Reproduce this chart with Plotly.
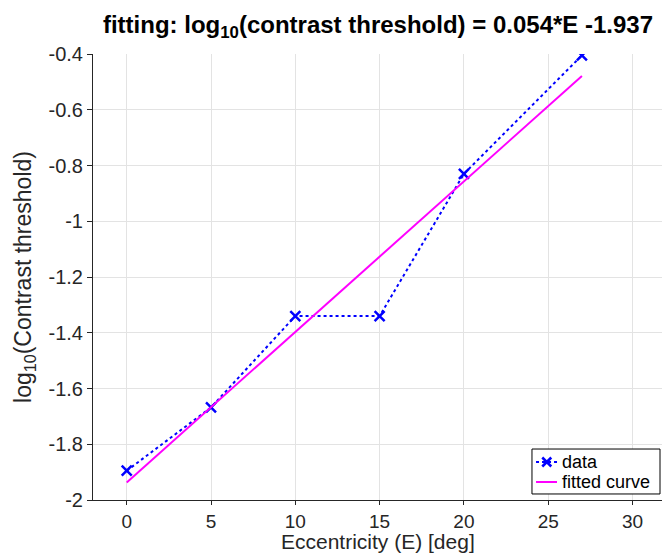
import plotly.graph_objects as go

# Measured eccentricities and log10 contrast thresholds
ecc_deg = [0, 5, 10, 15, 20, 27]
log_threshold = [-1.895, -1.668, -1.34, -1.34, -0.83, -0.405]

# Linear fit coefficients: log10(threshold) = slope * E + intercept
fit_slope = 0.054
fit_intercept = -1.937
fit_x = [0, 27]
fit_y = [fit_slope * e + fit_intercept for e in fit_x]

x_ticks = [0, 5, 10, 15, 20, 25, 30]
y_ticks = [-2, -1.8, -1.6, -1.4, -1.2, -1, -0.8, -0.6, -0.4]
y_tick_text = ["-2", "-1.8", "-1.6", "-1.4", "-1.2", "-1", "-0.8", "-0.6", "-0.4"]

legend_labels = ["data", "fitted curve"]

FONT = "Liberation Sans, Arial, Helvetica, sans-serif"
TXT = "#262626"
BLUE = "#0000ff"
MAGENTA = "#ff00ff"

fig = go.Figure()
fig.add_trace(go.Scatter(
    x=ecc_deg, y=log_threshold, mode="lines+markers", name=legend_labels[0],
    line=dict(color=BLUE, width=2, dash="dot"),
    marker=dict(symbol="x-thin", size=10, line=dict(color=BLUE, width=2.5)),
))
fig.add_trace(go.Scatter(
    x=fit_x, y=fit_y, mode="lines", name=legend_labels[1],
    line=dict(color=MAGENTA, width=2),
))

# Compact boxed legend in the lower-right corner of the axes (paper coords)
bx0, bx1, by0, by1 = 0.7715, 0.9965, 0.0135, 0.1143
row_y = [0.0852, 0.0404]
sx0, sx1, smid, tx = 0.7786, 0.8155, 0.7975, 0.8207
shapes = [
    dict(type="rect", xref="paper", yref="paper", x0=bx0, x1=bx1, y0=by0, y1=by1,
         line=dict(color="black", width=1), fillcolor="white", layer="above"),
    dict(type="line", xref="paper", yref="paper", x0=sx0, x1=sx1, y0=row_y[0], y1=row_y[0],
         line=dict(color=BLUE, width=2, dash="dot"), layer="above"),
    dict(type="line", xref="paper", yref="paper", x0=sx0, x1=sx1, y0=row_y[1], y1=row_y[1],
         line=dict(color=MAGENTA, width=2), layer="above"),
]
# legend cross marker
dx, dy = 4.5 / 569, 4.5 / 446
for s in (1, -1):
    shapes.append(dict(type="line", xref="paper", yref="paper",
                       x0=smid - dx, x1=smid + dx, y0=row_y[0] - s * dy, y1=row_y[0] + s * dy,
                       line=dict(color=BLUE, width=2.5), layer="above"))
annotations = [
    dict(text=lab, xref="paper", yref="paper", x=tx, y=ry, xanchor="left", yanchor="middle",
         showarrow=False, font=dict(size=18, color="black", family=FONT))
    for lab, ry in zip(legend_labels, row_y)
]
# x-axis title, sitting on the bottom edge of the figure
annotations.append(dict(
    text="Eccentricity (E) [deg]", xref="paper", yref="paper", x=0.5, y=-0.1205,
    xanchor="center", yanchor="bottom", showarrow=False, borderpad=0,
    font=dict(size=21, color=TXT, family=FONT),
))

fig.update_layout(
    width=662, height=554,
    margin=dict(l=93, r=0, t=54, b=54),
    paper_bgcolor="white", plot_bgcolor="white",
    font=dict(family=FONT, color=TXT),
    title=dict(
        text="<b>fitting: log<sub>10</sub>(contrast threshold) = 0.054*E -1.937</b>",
        x=0.571, xanchor="center", y=0.955, yanchor="middle",
        font=dict(size=24, color="black", family=FONT),
    ),
    showlegend=False,
    shapes=shapes,
    annotations=annotations,
)
fig.update_xaxes(
    range=[-2, 31.75], tickvals=x_ticks, ticktext=[str(v) for v in x_ticks],
    showgrid=True, gridcolor="#e3e3e3", gridwidth=1,
    showline=True, linecolor=TXT, linewidth=1,
    ticks="outside", ticklen=4, tickcolor=TXT,
    tickfont=dict(size=19, color=TXT), zeroline=False,
)
fig.update_yaxes(
    range=[-2, -0.4], tickvals=y_ticks, ticktext=y_tick_text,
    showgrid=True, gridcolor="#e3e3e3", gridwidth=1,
    showline=True, linecolor=TXT, linewidth=1,
    ticks="outside", ticklen=5, tickcolor=TXT,
    tickfont=dict(size=20, color=TXT), zeroline=False,
    title=dict(text="log<sub>10</sub>(Contrast threshold)", font=dict(size=23, color=TXT), standoff=10),
)

fig.write_html("out.html")
